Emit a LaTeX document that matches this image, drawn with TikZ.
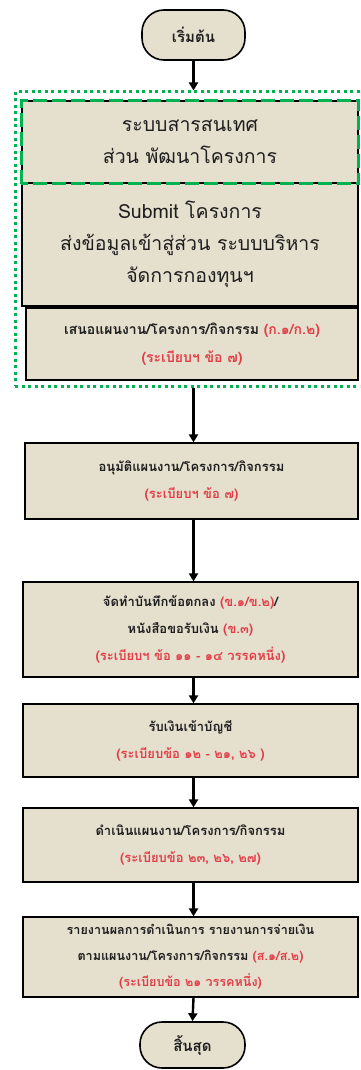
\documentclass[tikz,border=0pt]{standalone}
\usepackage{fontspec}
\newfontfamily\thaifont[Script=Thai]{Loma}
\usetikzlibrary{arrows.meta,fit,calc}
\definecolor{boxfill}{RGB}{229,223,206}
\definecolor{redtxt}{RGB}{226,62,72}
\definecolor{grn}{RGB}{0,178,80}
\definecolor{txt}{RGB}{30,30,30}
\tikzset{
  box/.style={draw=black, line width=1.6pt, fill=boxfill, rectangle, align=center, inner sep=0pt, text=txt},
  bigtext/.style={font=\thaifont\fontsize{19.5}{32}\selectfont},
  midtext/.style={font=\thaifont\bfseries\fontsize{14}{28}\selectfont},
  smalltext/.style={font=\thaifont\bfseries\fontsize{13}{27}\selectfont},
  tinytext/.style={font=\thaifont\bfseries\fontsize{12.6}{26}\selectfont},
  term/.style={draw=black, line width=1.6pt, fill=boxfill, rounded corners=22pt, inner sep=0pt, font=\thaifont\bfseries\fontsize{15}{16}\selectfont, text=txt},
  flow/.style={line width=2.4pt, -{Triangle[length=8pt,width=9pt]}},
}
\newcommand{\rd}[1]{\textcolor{redtxt}{#1}}
\begin{document}
\begin{tikzpicture}[x=1pt,y=-1pt]
\useasboundingbox (0,0) rectangle (360,1070);
\clip (0,0) rectangle (360,1070);
% start
\node[term, minimum width=103pt, minimum height=50pt] (start) at (193.5,35) {เริ่มต้น};
% group boxes
\node[box, bigtext, minimum width=336pt, minimum height=82pt] (b1) at (190,142) {ระบบสารสนเทศ\\ส่วน พัฒนาโครงการ};
\node[box, bigtext, minimum width=336pt, minimum height=123pt] (b2) at (190,244.5) {Submit โครงการ\\ส่งข้อมูลเข้าสู่ส่วน ระบบบริหาร\\จัดการกองทุนฯ};
\draw[grn, line width=3.2pt, dash pattern=on 14pt off 5pt] (b1.south west) rectangle (b1.north east);
\node[box, midtext, line width=1.2pt, minimum width=332pt, minimum height=72pt] (b3) at (192,344) {เสนอแผนงาน/โครงการ/กิจกรรม \rd{(ก.๑/ก.๒)}\\\rd{(ระเบียบฯ ข้อ ๗)}};
\coordinate (gnw) at (15,92);
\coordinate (gse) at (362,386);
\node[draw=grn, line width=3pt, dash pattern=on 3pt off 3.5pt, fit=(gnw)(gse), inner sep=0pt] (grp) {};
% lower boxes
\node[box, smalltext, line width=1.2pt, minimum width=333pt, minimum height=76pt] (b4) at (191.5,481) {อนุมัติแผนงาน/โครงการ/กิจกรรม\\\rd{(ระเบียบฯ ข้อ ๗)}};
\node[box, smalltext, line width=1.2pt, minimum width=335pt, minimum height=95pt] (b5) at (190.5,629.5) {จัดทำบันทึกข้อตกลง \rd{(ข.๑/ข.๒)}/\\หนังสือขอรับเงิน \rd{(ข.๓)}\\\rd{(ระเบียบฯ ข้อ ๑๑ - ๑๔ วรรคหนึ่ง)}};
\node[box, smalltext, line width=1.2pt, minimum width=335pt, minimum height=73pt] (b6) at (190.5,740.5) {รับเงินเข้าบัญชี\\\rd{(ระเบียบข้อ ๑๒ - ๒๑, ๒๖ )}};
\node[box, smalltext, line width=1.2pt, minimum width=335pt, minimum height=74pt] (b7) at (190.5,845) {ดำเนินแผนงาน/โครงการ/กิจกรรม\\\rd{(ระเบียบข้อ ๒๓, ๒๖, ๒๗)}};
\node[box, tinytext, line width=1.2pt, minimum width=335pt, minimum height=80pt] (b8) at (190.5,957) {รายงานผลการดำเนินการ รายงานการจ่ายเงิน\\ตามแผนงาน/โครงการ/กิจกรรม \rd{(ส.๑/ส.๒)}\\\rd{(ระเบียบข้อ ๒๑ วรรคหนึ่ง)}};
\node[term, minimum width=105pt, minimum height=46pt] (end) at (192.5,1045) {สิ้นสุด};
% connectors
\draw[flow] (start.south) -- (start.south |- grp.north);
\draw[flow] (grp.south -| start.south) -- (start.south |- b4.north);
\draw[flow] (b4.south -| start.south) -- (start.south |- b5.north);
\draw[flow] (b5.south -| start.south) -- (start.south |- b6.north);
\draw[flow] (b6.south -| start.south) -- (start.south |- b7.north);
\draw[flow] (b7.south -| start.south) -- (start.south |- b8.north);
\draw[flow] (b8.south -| start.south) -- (end.north);
\end{tikzpicture}
\end{document}
